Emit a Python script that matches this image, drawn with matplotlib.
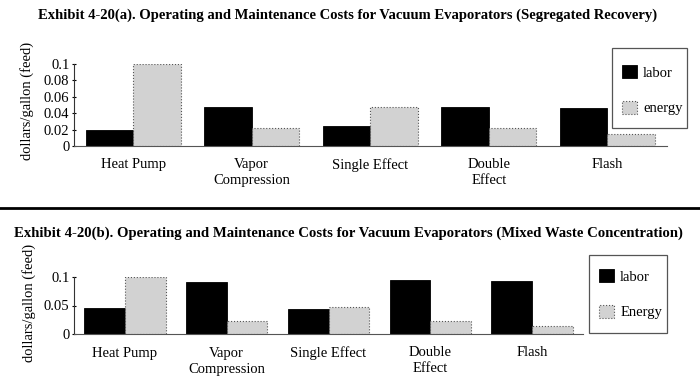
import numpy as np
import matplotlib.pyplot as plt
from matplotlib.lines import Line2D
from matplotlib.patches import Rectangle

plt.rcParams['font.family'] = ['Liberation Serif', 'DejaVu Serif']

# data
categories = ['Heat Pump', 'Vapor\nCompression', 'Single Effect', 'Double\nEffect', 'Flash']
labor_a = [0.020, 0.048, 0.024, 0.048, 0.046]
energy_a = [0.100, 0.022, 0.048, 0.022, 0.015]
labor_b = [0.046, 0.091, 0.044, 0.095, 0.093]
energy_b = [0.100, 0.022, 0.047, 0.022, 0.014]
ticks_a = [0, 0.02, 0.04, 0.06, 0.08, 0.1]
tick_labels_a = ['0', '0.02', '0.04', '0.06', '0.08', '0.1']
ticks_b = [0, 0.05, 0.1]
tick_labels_b = ['0', '0.05', '0.1']

W, H = 700, 387
fig = plt.figure(figsize=(7, 3.87), dpi=100)

x = np.arange(len(categories))
w = 0.4
gray = '#d2d2d2'


def draw(ax, labor, energy, ticks, tlabels, names):
    ax.bar(x - w / 2, labor, w, color='black', edgecolor='black', linewidth=0.6, label=names[0])
    ax.bar(x + w / 2, energy, w, color=gray, edgecolor='#555555', linewidth=0.8,
           linestyle=':', label=names[1])
    ax.set_xlim(-0.5, 4.5)
    ax.set_ylim(0, 0.1)
    ax.set_xticks(x)
    ax.set_xticklabels(categories, fontsize=10.5, va='top', linespacing=1.3)
    ax.set_yticks(ticks)
    ax.set_yticklabels(tlabels, fontsize=10.5)
    ax.tick_params(axis='x', length=0, pad=9)
    ax.tick_params(axis='y', length=2.5, width=0.8, pad=2, direction='inout')
    for s in ['top', 'right']:
        ax.spines[s].set_visible(False)
    ax.spines['left'].set_color('#333333')
    ax.spines['bottom'].set_color('#555555')
    ax.spines['bottom'].set_linestyle((0, (6, 1)))
    ax.set_ylabel('dollars/gallon (feed)', fontsize=10.5)


def legend_box(ax, x0, y0, x1, y1, hx, hy):
    # frame drawn separately so its padding can differ horizontally and vertically
    fig.add_artist(Rectangle((x0 / W, 1 - y1 / H), (x1 - x0) / W, (y1 - y0) / H,
                             transform=fig.transFigure, fill=False,
                             edgecolor='#555555', linewidth=0.9))
    fig.legend(*ax.get_legend_handles_labels(), loc='upper left',
               bbox_to_anchor=(hx / W, 1 - hy / H), fontsize=10.5, frameon=False,
               handlelength=1.0, handleheight=1.0, handletextpad=0.45,
               labelspacing=1.45, borderpad=0, borderaxespad=0)


# top chart
ax1 = fig.add_axes([74 / W, 1 - 146 / H, 592.5 / W, 82 / H])
draw(ax1, labor_a, energy_a, ticks_a, tick_labels_a, ['labor', 'energy'])
ax1.yaxis.set_label_coords(-0.068, 0.55)
legend_box(ax1, 612, 48, 687, 128, 622, 65)

# bottom chart
ax2 = fig.add_axes([74 / W, 1 - 334 / H, 509 / W, 57 / H])
draw(ax2, labor_b, energy_b, ticks_b, tick_labels_b, ['labor', 'Energy'])
ax2.yaxis.set_label_coords(-0.075, 0.54)
legend_box(ax2, 589, 255, 667, 333, 599, 269)

# titles and separator
fig.text(0.496, 1 - 15 / H, 'Exhibit 4-20(a). Operating and Maintenance Costs for Vacuum Evaporators (Segregated Recovery)',
         ha='center', va='center', fontsize=10.5, fontweight='bold')
fig.text(0.498, 1 - 233 / H, 'Exhibit 4-20(b). Operating and Maintenance Costs for Vacuum Evaporators (Mixed Waste Concentration)',
         ha='center', va='center', fontsize=10.6, fontweight='bold')
fig.add_artist(Line2D([0, 1], [1 - 208 / H, 1 - 208 / H], color='black', linewidth=2,
                      transform=fig.transFigure))

fig.savefig('out.png', dpi=100)
